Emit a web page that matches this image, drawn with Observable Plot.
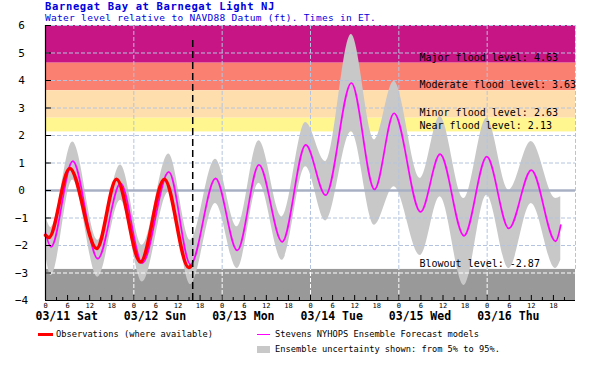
<!DOCTYPE html>
<html>
<head>
<meta charset="utf-8">
<script src="https://cdn.jsdelivr.net/npm/d3@7"></script>
<script src="https://cdn.jsdelivr.net/npm/@observablehq/plot@0.6"></script>
<style>
  html, body { margin: 0; padding: 0; background: #fff; }
  #wrap { position: relative; width: 599px; height: 371px; overflow: hidden;
          font-family: "DejaVu Sans Mono", monospace; color: #000; }
  #wrap svg { position: absolute; left: 0; top: 0; }
  .ov { position: absolute; white-space: pre; }
  #title { left: 45px; top: 0px; font-size: 10.5px; line-height: 12.3px; letter-spacing: 0.65px; font-weight: bold; color: #0000dd; }
  #subtitle { left: 45px; top: 12.3px; font-size: 9.5px; line-height: 11.1px; letter-spacing: 0.3px; color: #0000dd; }
  .legtxt { font-size: 8.7px; line-height: 10.2px; }
</style>
</head>
<body>
<div id="wrap">
  <div id="chart"></div>
  <div class="ov" id="title">Barnegat Bay at Barnegat Light NJ</div>
  <div class="ov" id="subtitle">Water level relative to NAVD88 Datum (ft). Times in ET.</div>
  <div class="ov" style="left:38px;top:332.8px;width:15px;height:3.2px;background:#ff0000;"></div>
  <div class="ov legtxt" style="left:56px;top:329.3px;">Observations (where available)</div>
  <div class="ov" style="left:257px;top:333.5px;width:13px;height:1.6px;background:#ff00ff;"></div>
  <div class="ov legtxt" style="left:275px;top:329.3px;">Stevens NYHOPS Ensemble Forecast models</div>
  <div class="ov" style="left:257px;top:346px;width:13px;height:6.5px;background:#c8c8c8;"></div>
  <div class="ov legtxt" style="left:275px;top:344.3px;">Ensemble uncertainty shown: from 5% to 95%.</div>
</div>
<script>
// ---- Data (x = hours since 03/11 00:00 ET) ----
const dayLabels = ["03/11 Sat", "03/12 Sun", "03/13 Mon", "03/14 Tue", "03/15 Wed", "03/16 Thu"];
const dayStarts = [0, 24, 48, 72, 96, 120];
const gridDays = [24, 48, 72, 96, 120, 144];
const hourTicks = [0, 6, 12, 18, 24, 30, 36, 42, 48, 54, 60, 66, 72, 78, 84, 90, 96, 102, 108, 114, 120, 126, 132, 138];
const minorTicks = [3, 9, 15, 21, 27, 33, 39, 45, 51, 57, 63, 69, 75, 81, 87, 93, 99, 105, 111, 117, 123, 129, 135, 141];
const yTicks = [-4, -3, -2, -1, 0, 1, 2, 3, 4, 5, 6];
const yGrid = [-2, -1, 1, 2, 3, 4, 5, 6];

// Ensemble forecast: times of turning points, median, 5% and 95%
const fcT   = [0, 1.5, 7.4, 14.2, 20.4, 26.3, 33.5, 39.4, 46.2, 52.1, 58, 64.3, 70.7, 76.1, 83.1, 89.4, 94.7, 101.9, 107.2, 113.7, 119.9, 125.9, 132, 138.6, 140];
const fcMid = [-1.55, -2.05, 1.07, -2.48, 0.26, -2.64, 0.68, -2.69, 0.44, -2.18, 0.93, -1.87, 1.66, -0.17, 3.91, 0.04, 2.81, -0.78, 1.32, -1.65, 1.23, -1.38, 0.74, -1.85, -1.26];
const fcHi  = [-0.9, -1.35, 1.76, -1.81, 0.93, -1.99, 1.33, -1.81, 1.14, -1.32, 1.81, -0.96, 2.47, 1.05, 5.67, 1.84, 3.97, 0.44, 2.69, -0.29, 2.63, 0.01, 1.78, -0.29, -0.23];
const fcLo  = [-2.3, -3.1, 0.38, -3.15, -0.35, -3.33, -0.05, -3.42, -0.47, -2.84, 0.26, -2.54, 0.86, -1.11, 2.14, -1.26, 0.14, -2.36, -0.23, -3.45, -0.17, -2.84, -0.47, -2.84, -2.54];

// Observations
const obsT = [0, 0.9, 6.6, 13.9, 19.3, 25.8, 32.3, 38.9, 39.5];
const obsV = [-1.63, -1.71, 0.8, -2.11, 0.41, -2.6, 0.41, -2.8, -2.75];

// Reference levels
const levelNames  = ["Major flood level", "Moderate flood level", "Minor flood level", "Near flood level", "Blowout level"];
const levelValues = [4.63, 3.63, 2.63, 2.13, -2.87];
const bandLo    = [4.63, 3.63, 2.63, 2.13, -4];
const bandHi    = [6, 4.63, 3.63, 2.63, -2.87];
const bandColor = ["#c71585", "#fa8072", "#ffdead", "#fff68f", "#999999"];

const forecastStart = 40; // 03/12 16:00

// ---- Build tables ----
const ens = fcT.map((t, i) => ({t, mid: fcMid[i], lo: fcLo[i], hi: fcHi[i]}));
const obs = obsT.map((t, i) => ({t, v: obsV[i]}));
const bands = bandLo.map((lo, i) => ({lo, hi: bandHi[i], color: bandColor[i]}));
const levels = levelNames.map((name, i) => ({name, value: levelValues[i]}));

const W = 599, H = 371, ML = 45, MR = 24, MT = 25, MB = 71;
const FW = W - ML - MR, FH = H - MT - MB;
const grid = "#b4c4e0";

const chart = Plot.plot({
  width: W, height: H,
  marginLeft: ML, marginRight: MR, marginTop: MT, marginBottom: MB,
  x: {domain: [0, 144], axis: null},
  y: {domain: [-4, 6], axis: null},
  color: {type: "identity"},
  style: {fontFamily: "'DejaVu Sans Mono', monospace", fontSize: "10px", background: "transparent", color: "#000", overflow: "visible"},
  marks: [
    Plot.rect(bands, {y1: "lo", y2: "hi", fill: "color"}),
    Plot.areaY(ens, {x: "t", y1: "lo", y2: "hi", fill: "#c8c8c8", curve: "monotone-x"}),
    Plot.ruleY(yGrid, {stroke: grid, strokeDasharray: "4,2"}),
    Plot.ruleY([-3], {stroke: "#ffffff", strokeDasharray: "4,2"}),
    Plot.ruleX(gridDays, {y1: -2.87, y2: 6, stroke: grid, strokeDasharray: "4,2"}),
    Plot.ruleX(gridDays, {y1: -4, y2: -2.87, stroke: "#ffffff", strokeDasharray: "4,2"}),
    Plot.ruleY([0], {stroke: "#a8b0c4", strokeWidth: 2.5}),
    Plot.line(ens, {x: "t", y: "mid", stroke: "#ff00ff", strokeWidth: 1.7, curve: "monotone-x"}),
    Plot.line(obs, {x: "t", y: "v", stroke: "#ff0000", strokeWidth: 3.5, curve: "monotone-x"}),
    Plot.ruleX([forecastStart], {y1: -4, y2: 5.5, stroke: "#000", strokeWidth: 1.5, strokeDasharray: "7,4"}),
    Plot.text(levels, {frameAnchor: "left", dx: 374, y: "value", dy: -2.5,
      text: d => `${d.name}: ${d.value.toFixed(2)}`, textAnchor: "start", lineAnchor: "bottom",
      fontSize: 10, fill: "#000"}),
    // axes
    Plot.ruleX([0], {stroke: "#000", strokeWidth: 1.2}),
    Plot.ruleY([-4], {stroke: "#000", strokeWidth: 1.2}),
    Plot.tickY(yTicks, {y: d => d, stroke: "#000", insetRight: FW - 6}),
    Plot.tickX(hourTicks, {x: d => d, stroke: "#000", insetTop: FH - 5}),
    Plot.tickX(minorTicks, {x: d => d, stroke: "#000", insetTop: FH - 3}),
    Plot.axisY({ticks: yTicks, tickSize: 0, tickPadding: 24, textAnchor: "middle", fontSize: 11, tickFormat: d => String(d).replace("-", "\u2212")}),
    Plot.text(hourTicks, {x: d => d, text: d => String(d % 24), frameAnchor: "bottom", dy: 5.5, lineAnchor: "middle", fontSize: 7, fill: "#000"}),
    Plot.text(dayStarts, {x: d => d, text: (d, i) => dayLabels[i], frameAnchor: "bottom", dy: 15.5, dx: -10, textAnchor: "start", lineAnchor: "middle", fontWeight: "bold", fontSize: 11.5, fill: "#000"})
  ]
});
document.getElementById("chart").appendChild(chart);
</script>
</body>
</html>
